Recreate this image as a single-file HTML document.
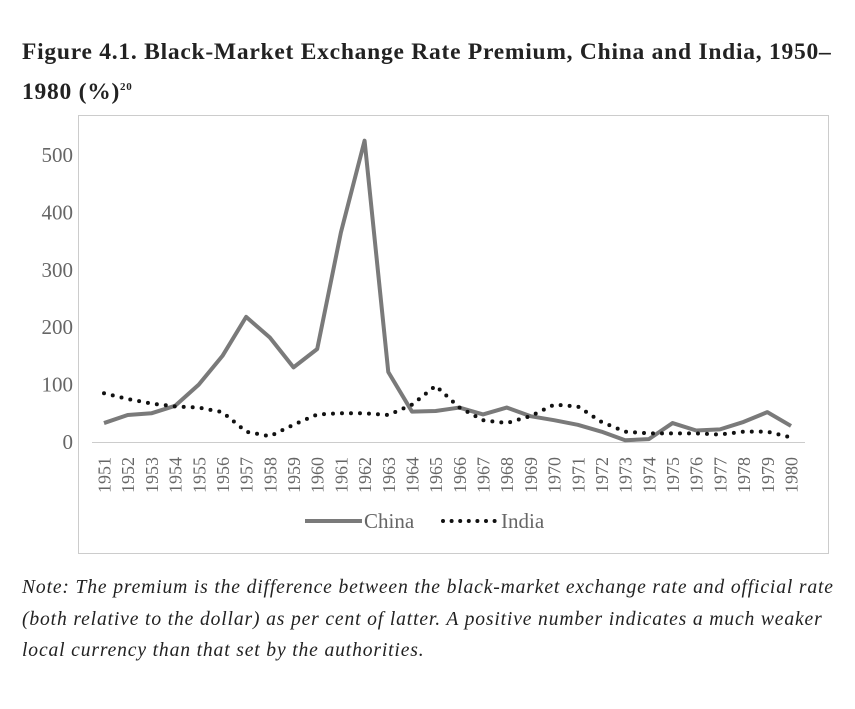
<!DOCTYPE html>
<html><head><meta charset="utf-8"><style>
body{margin:0;background:#fff;width:855px;height:709px;overflow:hidden;font-family:"Liberation Serif",serif;}
#title{position:absolute;left:22px;top:35px;width:840px;font-weight:bold;font-size:23.5px;line-height:35px;color:#222;letter-spacing:0.75px;white-space:nowrap;}
#note{position:absolute;left:22px;top:572px;width:840px;font-style:italic;font-size:19.6px;line-height:31.5px;color:#222;white-space:nowrap;letter-spacing:0.85px;}
svg{position:absolute;left:0;top:0;}
</style></head><body>
<div id="title">Figure 4.1. Black-Market Exchange Rate Premium, China and India, 1950–<br>1980 (%)<sup style="font-size:11px">20</sup></div>
<svg width="855" height="709" id="chart">
<rect x="78.5" y="115.5" width="750" height="438" fill="none" stroke="#ccc"/>
<g id="g"></g>
</svg>
<div id="note">Note: The premium is the difference between the black-market exchange rate and official rate<br>(both relative to the dollar) as per cent of latter. A positive number indicates a much weaker<br>local currency than that set by the authorities.</div>
<script>
const years=[1951,1952,1953,1954,1955,1956,1957,1958,1959,1960,1961,1962,1963,1964,1965,1966,1967,1968,1969,1970,1971,1972,1973,1974,1975,1976,1977,1978,1979,1980];
const china=[33,47,50,63,100,150,218,182,130,162,365,525,122,53,54,60,48,60,45,38,30,18,3,5,33,20,22,35,52,28];
const india=[85,75,67,62,60,52,18,10,30,48,50,50,47,65,98,60,38,33,45,65,62,35,18,15,15,15,13,18,18,8];
const yTicks=[0,100,200,300,400,500];
const NS="http://www.w3.org/2000/svg";
const g=document.getElementById('g');
const x=i=>104+i*(791-104)/(years.length-1);
const y=v=>442-v*0.574;
function mk(t,a){const e=document.createElementNS(NS,t);for(const k in a)e.setAttribute(k,a[k]);g.appendChild(e);return e;}
const ax=mk('line',{x1:92,x2:805,y1:442.5,y2:442.5,stroke:'#ccc'});


yTicks.forEach(v=>{const t=mk('text',{x:73,y:y(v)+7,'text-anchor':'end','font-size':21,fill:'#666','font-family':'Liberation Serif'});t.textContent=v;

});
years.forEach((yr,i)=>{const t=mk('text',{transform:`translate(${x(i)+6.5},${493}) rotate(-90)`,'font-size':18,fill:'#666','font-family':'Liberation Serif'});t.textContent=yr;

});
const pc=mk('polyline',{points:china.map((v,i)=>x(i)+','+y(v)).join(' '),fill:'none',stroke:'#7a7a7a','stroke-width':4,'stroke-linejoin':'round'});


const pi=mk('polyline',{points:india.map((v,i)=>x(i)+','+y(v)).join(' '),fill:'none',stroke:'#111','stroke-width':4,'stroke-dasharray':'0 9','stroke-linecap':'round'});


const l1=mk('line',{x1:305,x2:362,y1:521,y2:521,stroke:'#7a7a7a','stroke-width':4});


const t1=mk('text',{x:364,y:528,'font-size':21,fill:'#666','font-family':'Liberation Serif'});t1.textContent='China';


const l2=mk('line',{x1:443,x2:495,y1:521,y2:521,stroke:'#111','stroke-width':4,'stroke-dasharray':'0 8.6','stroke-linecap':'round'});


const t2=mk('text',{x:501,y:528,'font-size':21,fill:'#666','font-family':'Liberation Serif'});t2.textContent='India';


</script>
</body></html>
